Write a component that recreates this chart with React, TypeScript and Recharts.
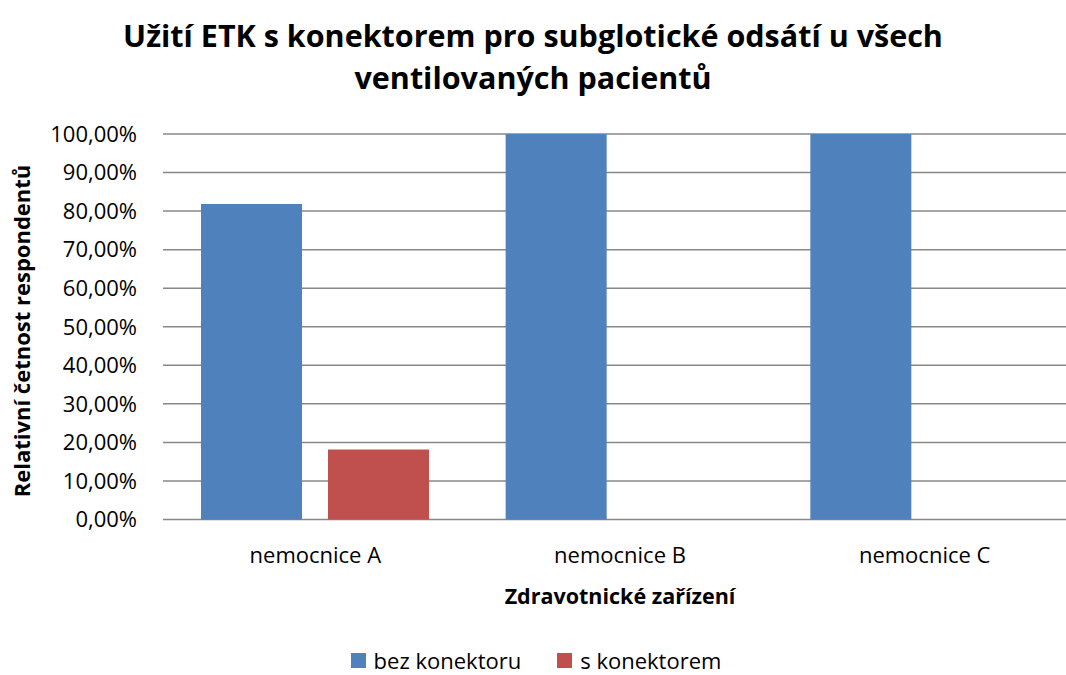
import React from 'react';
import { BarChart, Bar, XAxis, YAxis, CartesianGrid, Legend, Label } from 'recharts';

const categories = ['nemocnice A', 'nemocnice B', 'nemocnice C'];
const bezKonektoru = [0.8182, 1, 1];
const sKonektorem = [0.1818, 0, 0];
const yTicks = [0, 0.1, 0.2, 0.3, 0.4, 0.5, 0.6, 0.7, 0.8, 0.9, 1];
const seriesNames = ['bez konektoru', 's konektorem'];
const seriesColors = ['#4F81BD', '#C0504D'];
const titleLines = ['Užití ETK s konektorem pro subglotické odsátí u všech', 'ventilovaných pacientů'];
const xTitle = 'Zdravotnické zařízení';
const yTitle = 'Relativní četnost respondentů';

const data = categories.map((c, i) => ({ name: c, a: bezKonektoru[i], b: sKonektorem[i] }));

const FONT = '"Open Sans", sans-serif';

const fmt = (v: number) => (v * 100).toFixed(2).replace('.', ',') + '%';

const LegendContent = (props: any) => {
  const payload = props.payload || [];
  return (
    <div style={{ height: 20, lineHeight: '20px', display: 'flex', justifyContent: 'center', alignItems: 'center', fontFamily: FONT, fontSize: 22, color: '#000', paddingLeft: 6 }}>
      {payload.map((p: any, i: number) => (
        <div key={i} style={{ display: 'flex', alignItems: 'center', marginLeft: i ? 36 : 0 }}>
          <span style={{ display: 'inline-block', width: 15, height: 15, background: p.color, marginRight: 8 }} />
          <span>{p.value}</span>
        </div>
      ))}
    </div>
  );
};

export default function App() {
  return (
    <div style={{ position: 'absolute', left: 0, top: 0, width: 1066, height: 675, background: '#fff', overflow: 'hidden' }}>
      <div style={{ position: 'absolute', left: 0, top: 14, width: 1066, textAlign: 'center', fontFamily: FONT, fontWeight: 700, fontSize: 30.5, lineHeight: '42px', color: '#000', zIndex: 2 }}>
        {titleLines.map((l, i) => <div key={i}>{l}</div>)}
      </div>
      <BarChart width={1077} height={675} data={data} margin={{ top: 134, right: 0, left: 0, bottom: 45.5 }} barGap={26} barSize={101}>
        <CartesianGrid vertical={false} stroke="#888888" strokeWidth={1.5} />
        <XAxis dataKey="name" height={90} axisLine={false} tickLine={false} tickSize={0} tickMargin={28}
          tick={{ fill: '#000', fontSize: 22, fontFamily: FONT }} interval={0}>
          <Label content={() => (
            <text x={620} y={604} textAnchor="middle" fontFamily={FONT} fontSize={21.5} fontWeight={700} fill="#000">{xTitle}</text>
          )} />
        </XAxis>
        <YAxis width={163} domain={[0, 1]} ticks={yTicks} tickFormatter={fmt} axisLine={false} tickLine={false} tickSize={0} tickMargin={26}
          tick={{ fill: '#000', fontSize: 22, fontFamily: FONT }} interval={0}>
          <Label content={() => (
            <text x={0} y={0} transform="translate(30,331) rotate(-90)" textAnchor="middle" fontFamily={FONT} fontSize={22} fontWeight={700} fill="#000">{yTitle}</text>
          )} />
        </YAxis>
        <Legend verticalAlign="bottom" content={LegendContent} wrapperStyle={{ top: 650, left: 0, width: 1066 }} />
        <Bar dataKey="a" name={seriesNames[0]} fill={seriesColors[0]} isAnimationActive={false} />
        <Bar dataKey="b" name={seriesNames[1]} fill={seriesColors[1]} isAnimationActive={false} />
      </BarChart>
    </div>
  );
}
